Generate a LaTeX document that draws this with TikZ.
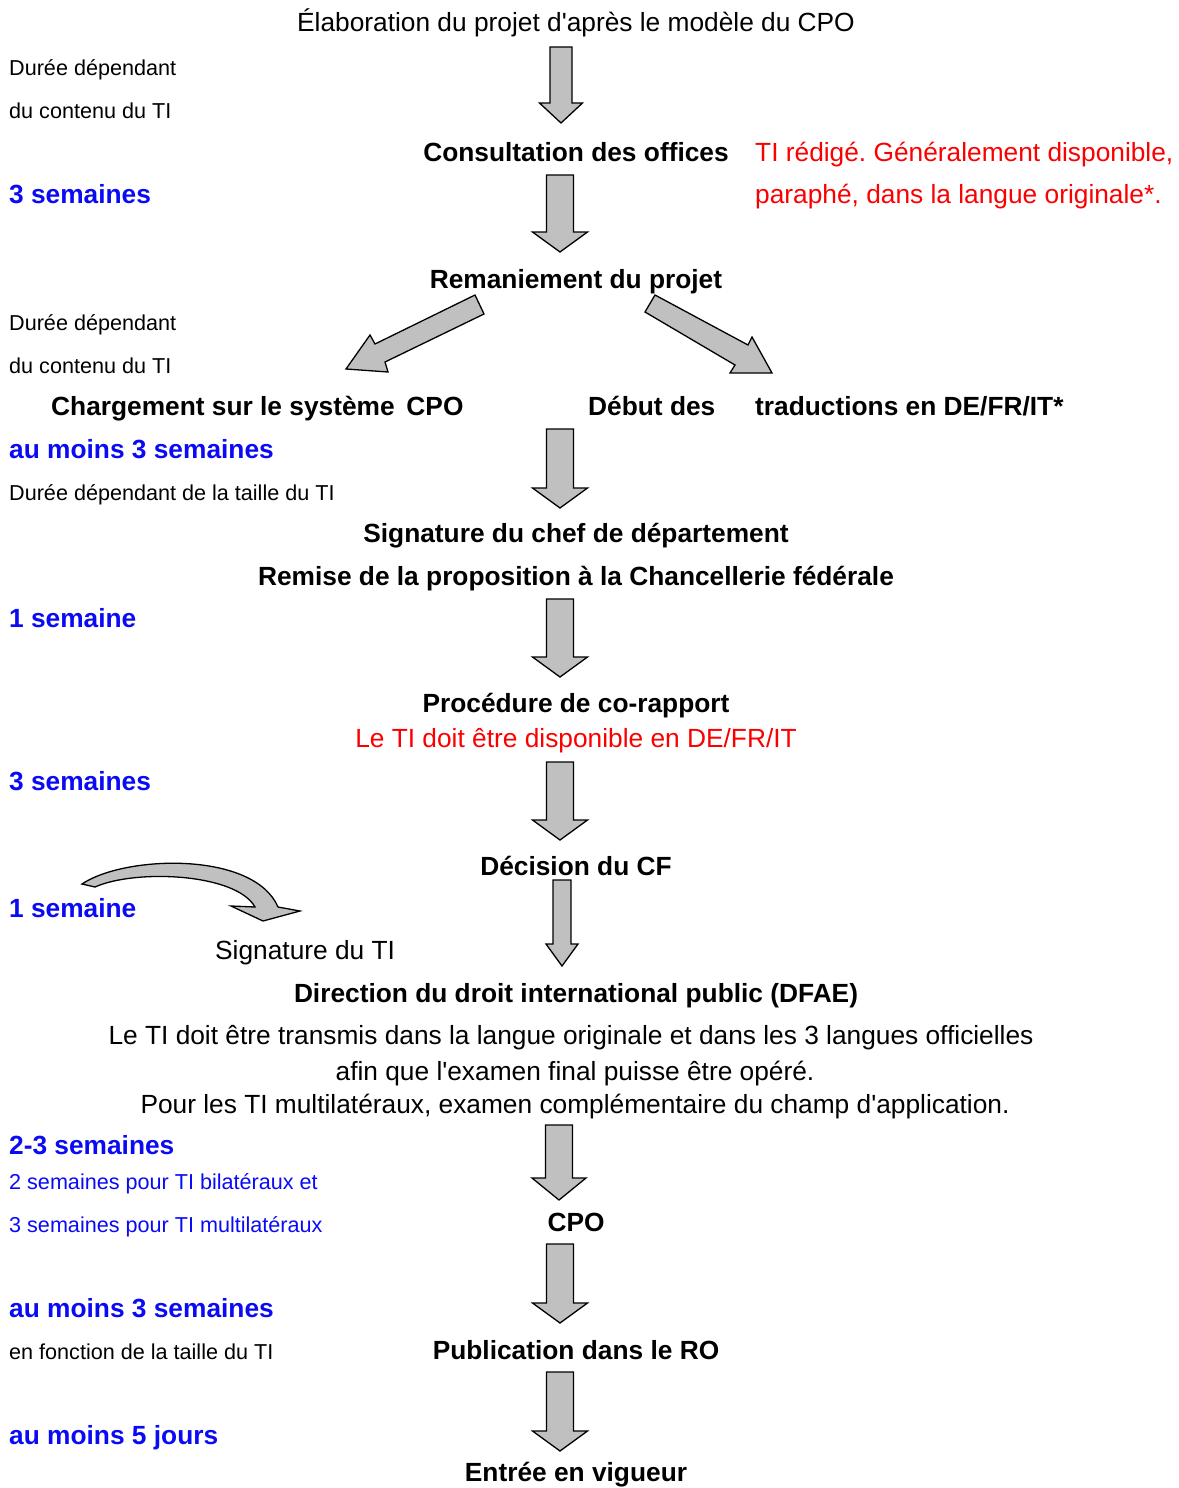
\documentclass[tikz,border=0pt]{standalone}
\usepackage{fontspec}
\setmainfont{Liberation Sans}
\frenchspacing
\definecolor{ablue}{RGB}{10,10,245}
\definecolor{ared}{RGB}{250,0,0}
\definecolor{agray}{RGB}{192,192,192}
\tikzset{
  big/.style={font=\fontsize{26.3}{30}\selectfont, inner sep=0pt, anchor=base},
  bigb/.style={font=\fontsize{26.3}{30}\selectfont\bfseries, inner sep=0pt, anchor=base},
  small/.style={font=\fontsize{21.6}{26}\selectfont, inner sep=0pt, anchor=base west},
  dur/.style={bigb, text=ablue, anchor=base west},
  blockarrow/.style={fill=agray, draw=black, line width=1.3pt, line join=miter},
}
% x, top, bottom, shaft half width, head half width, head height
\newcommand{\blkdown}[6]{%
  \draw[blockarrow] (#1-#4,#2) -- (#1+#4,#2) -- (#1+#4,#3-#6) -- (#1+#5,#3-#6)
    -- (#1,#3) -- (#1-#5,#3-#6) -- (#1-#4,#3-#6) -- cycle;}
\begin{document}
\begin{tikzpicture}[x=1pt,y=-1pt]
\useasboundingbox (0,0) rectangle (1178,1488);
\clip (0,0) rectangle (1178,1488);

% texts
\node[big] (t1) at (576,32) {Élaboration du projet d\textquotesingle après le modèle du CPO};
\node[small] (d1a) at (9,76) {Durée dépendant};
\node[small] (d1b) at (9,118) {du contenu du TI};
\node[bigb] (t2) at (576,161) {Consultation des offices};
\node[big, text=ared, anchor=base west] (r1) at (755,161) {TI rédigé. Généralement disponible,};
\node[big, text=ared, anchor=base west] (r2) at (755,203) {paraphé, dans la langue originale*.};
\node[dur] (w1) at (9,203) {3 semaines};
\node[bigb] (t3) at (576,288) {Remaniement du projet};
\node[small] (d2a) at (9,330) {Durée dépendant};
\node[small] (d2b) at (9,373) {du contenu du TI};
\node[bigb, anchor=base west] (t4a) at (51,415) {Chargement sur le système\hspace{0.45em}CPO};
\node[bigb, anchor=base west] (t4b) at (588,415) {Début des};
\node[bigb, anchor=base west] (t4c) at (755,415) {traductions en DE/FR/IT*};
\node[dur] (w2) at (9,458) {au moins 3 semaines};
\node[small] (d3) at (9,500) {Durée dépendant de la taille du TI};
\node[bigb] (t5) at (576,542) {Signature du chef de département};
\node[bigb] (t6) at (576,585) {Remise de la proposition à la Chancellerie fédérale};
\node[dur] (w3) at (9,627) {1 semaine};
\node[bigb] (t7) at (576,712) {Procédure de co-rapport};
\node[big, text=ared] (r3) at (576,747) {Le TI doit être disponible en DE/FR/IT};
\node[dur] (w4) at (9,790) {3 semaines};
\node[bigb] (t8) at (576,875) {Décision du CF};
\node[dur] (w5) at (9,917) {1 semaine};
\node[big, anchor=base west] (s1) at (215,959) {Signature du TI};
\node[bigb] (t9) at (576,1002) {Direction du droit international public (DFAE)};
\node[big] (p1) at (571,1044) {Le TI doit être transmis dans la langue originale et dans les 3 langues officielles};
\node[big] (p2) at (575,1080) {afin que l\textquotesingle examen final puisse être opéré.};
\node[big] (p3) at (575,1113) {Pour les TI multilatéraux, examen complémentaire du champ d\textquotesingle application.};
\node[dur] (w6) at (9,1154) {2-3 semaines};
\node[small, text=ablue] (b1) at (9,1189) {2 semaines pour TI bilatéraux et};
\node[small, text=ablue] (b2) at (9,1232) {3 semaines pour TI multilatéraux};
\node[bigb] (t10) at (576,1231) {CPO};
\node[dur] (w7) at (9,1317) {au moins 3 semaines};
\node[small] (d4) at (9,1359) {en fonction de la taille du TI};
\node[bigb] (t11) at (576,1359) {Publication dans le RO};
\node[dur] (w8) at (9,1444) {au moins 5 jours};
\node[bigb] (t12) at (576,1481) {Entrée en vigueur};

% block arrows
\blkdown{561}{47}{123}{11}{21.5}{20}
\blkdown{560}{175}{252}{13.5}{27.5}{20}
\blkdown{560}{429}{508}{13.5}{27.5}{20}
\blkdown{560}{599}{677}{13.5}{27.5}{20}
\blkdown{560}{762}{840}{13.5}{27.5}{20}
\blkdown{562}{880}{966}{9}{16}{22}
\blkdown{559}{1125}{1200}{13.5}{27}{22}
\blkdown{560}{1244}{1323}{13.5}{27.5}{20}
\blkdown{560}{1372}{1451}{13.5}{27.5}{20}

% diagonal arrows
\draw[blockarrow] (475,295) -- (484,314) -- (385,362) -- (388,372) -- (346,369)
  -- (370,335) -- (375,344) -- cycle;
\draw[blockarrow] (655,295) -- (645,312) -- (735,365) -- (730,373) -- (772,373)
  -- (752,337) -- (748,345) -- cycle;

% curved arrow
\draw[blockarrow] (82,884) .. controls (125,855) and (254,851) .. (278,907)
  -- (300,911) -- (263,921) -- (231,906) -- (255,907)
  .. controls (236,873) and (135,869) .. (95,887) -- cycle;
\end{tikzpicture}
\end{document}
